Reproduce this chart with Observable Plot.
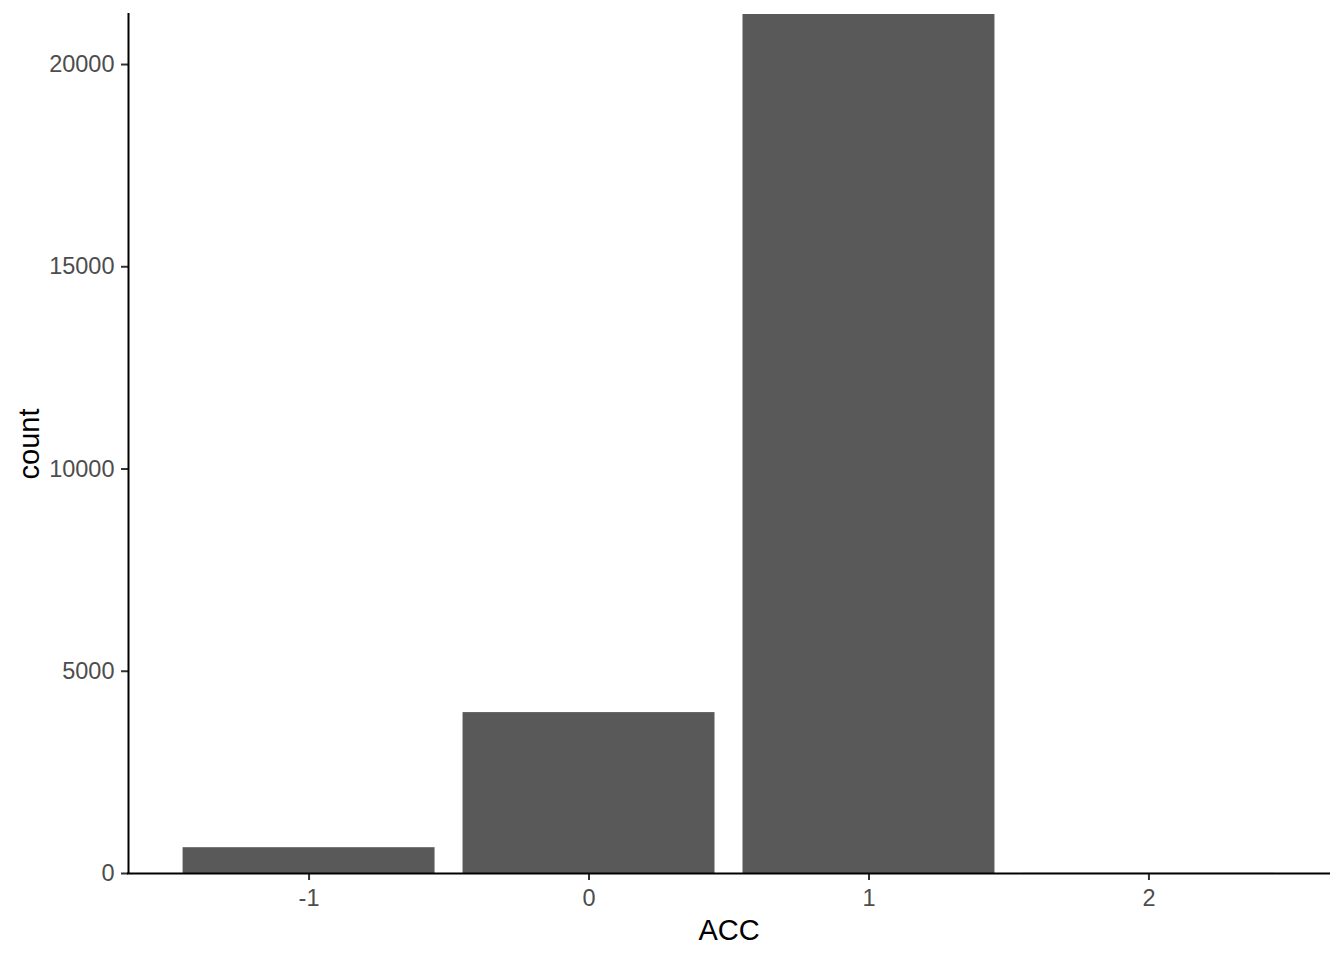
<!DOCTYPE html>
<html>
<head>
<meta charset="utf-8">
<script src="https://cdn.jsdelivr.net/npm/d3@7"></script>
<script src="https://cdn.jsdelivr.net/npm/@observablehq/plot@0.6"></script>
<style>
  html, body { margin: 0; padding: 0; background: #fff; }
  #chart { width: 1344px; height: 960px; }
</style>
</head>
<body>
<div id="chart"></div>
<script>
// Data
const accValues = [-1, 0, 1, 2];
const counts = [638, 3978, 21237, 3];
const yTicks = [0, 5000, 10000, 15000, 20000];
const xTicks = [-1, 0, 1, 2];
const xLabel = "ACC";
const yLabel = "count";

const barWidth = 0.9;
const data = accValues.map((v, i) => ({acc: v, count: counts[i]}));

// ggplot-like continuous expansion (5% of data range incl. bar widths)
const lo = d3.min(accValues) - barWidth / 2;
const hi = d3.max(accValues) + barWidth / 2;
const pad = (hi - lo) * 0.05;
const xDomain = [lo - pad, hi + pad];
const yDomain = [0, d3.max(counts)];

const font = "'Liberation Sans', Arial, Helvetica, sans-serif";

const chart = Plot.plot({
  width: 1344,
  height: 960,
  marginLeft: 128,
  marginRight: 15,
  marginTop: 14,
  marginBottom: 87,
  style: {fontFamily: font, background: "#fff", overflow: "visible"},
  x: {type: "linear", domain: xDomain},
  y: {type: "linear", domain: yDomain},
  marks: [
    Plot.rectY(data, {
      x1: d => d.acc - barWidth / 2,
      x2: d => d.acc + barWidth / 2,
      y1: 0,
      y2: "count",
      fill: "#595959"
    }),
    Plot.axisY({
      ticks: yTicks,
      tickFormat: d => String(d),
      tickSize: 7,
      tickPadding: 7,
      fontSize: 23.5,
      stroke: "#333333",
      strokeWidth: 2,
      fill: "#4D4D4D",
      label: null
    }),
    Plot.axisX({
      ticks: xTicks,
      tickFormat: d => String(d),
      tickSize: 7,
      tickPadding: 9,
      fontSize: 23.5,
      stroke: "#333333",
      strokeWidth: 2,
      fill: "#4D4D4D",
      label: null
    }),
    Plot.ruleX([xDomain[0]], {stroke: "#000", strokeWidth: 2, strokeLinecap: "square"}),
    Plot.ruleY([0], {stroke: "#000", strokeWidth: 2, strokeLinecap: "square"}),
    Plot.text([xLabel], {
      frameAnchor: "bottom",
      dy: 57,
      lineAnchor: "middle",
      textAnchor: "middle",
      fontSize: 29,
      fill: "#000"
    }),
    Plot.text([yLabel], {
      frameAnchor: "left",
      dx: -99,
      rotate: -90,
      lineAnchor: "middle",
      textAnchor: "middle",
      fontSize: 29,
      fill: "#000"
    })
  ]
});

document.getElementById("chart").appendChild(chart);
</script>
</body>
</html>
